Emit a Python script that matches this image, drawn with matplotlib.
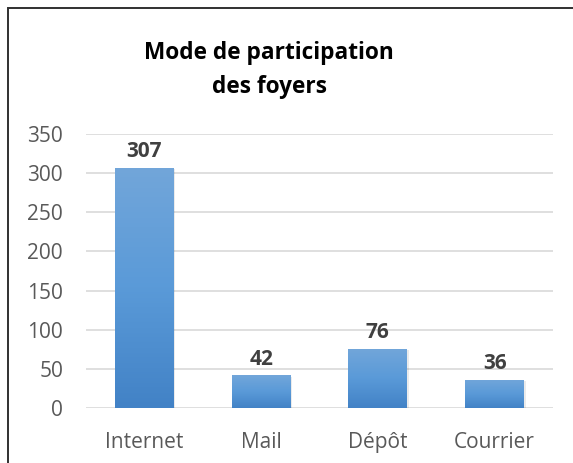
import matplotlib
matplotlib.use("Agg")
import matplotlib.pyplot as plt
import numpy as np
from matplotlib.colors import LinearSegmentedColormap
from matplotlib.patches import Rectangle

categories = ["Internet", "Mail", "Dépôt", "Courrier"]
values = [307, 42, 76, 36]
yticks = [0, 50, 100, 150, 200, 250, 300, 350]

W, H = 573, 463
fig = plt.figure(figsize=(W / 100, H / 100), dpi=100)
fig.patch.set_facecolor("white")

# chart border
fig.add_artist(Rectangle((7.5 / W, -0.05), 1.0, (H - 8) / H + 0.05, transform=fig.transFigure,
                         fill=False, edgecolor="#303030", linewidth=1.4))

ax = fig.add_axes([86 / W, (H - 408) / H, (553 - 86) / W, (408 - 134) / H])

cmap = LinearSegmentedColormap.from_list("g", ["#4282c6", "#5a9ad8", "#72a6da"])
bars = ax.bar(range(len(categories)), values, width=0.505, color="none", zorder=3)
grad = np.linspace(0, 1, 256).reshape(-1, 1)
for b in bars:
    x0, y0 = b.get_x(), b.get_y()
    w, h = b.get_width(), b.get_height()
    # soft shadow
    ax.add_patch(Rectangle((x0 + 0.012, y0 - 2), w, h, facecolor="#000000", alpha=0.08,
                           edgecolor="none", zorder=2))
    im = ax.imshow(grad, extent=[x0, x0 + w, y0, y0 + h], origin="lower", cmap=cmap,
                   aspect="auto", zorder=3)
    im.set_clip_path(b)
ax.set_xlim(-0.5, len(categories) - 0.5)
ax.set_ylim(0, 350)

for i, v in enumerate(values):
    ax.annotate(str(v), (i, v), xytext=(0, 11.5), textcoords="offset points",
                ha="center", va="center", fontsize=15, fontweight="bold",
                color="#404040", family="Open Sans")

ax.set_yticks(yticks)
ax.set_xticks(range(len(categories)))
ax.set_xticklabels(categories)
ax.tick_params(axis="both", length=0, labelsize=15, labelcolor="#595959")
ax.tick_params(axis="y", pad=16.5)
ax.tick_params(axis="x", pad=17)
for lbl in ax.get_xticklabels() + ax.get_yticklabels():
    lbl.set_family("Open Sans")
ax.grid(axis="y", color="#d9d9d9", linewidth=1.2, zorder=0)
ax.set_axisbelow(True)
for s in ax.spines.values():
    s.set_visible(False)

fig.text(269 / W, 1 - 70 / H, "Mode de participation\ndes foyers", ha="center", va="center",
         fontsize=16.3, fontweight="bold", color="black", family="Open Sans", linespacing=1.55)

fig.savefig("out.png", dpi=100, facecolor="white")
